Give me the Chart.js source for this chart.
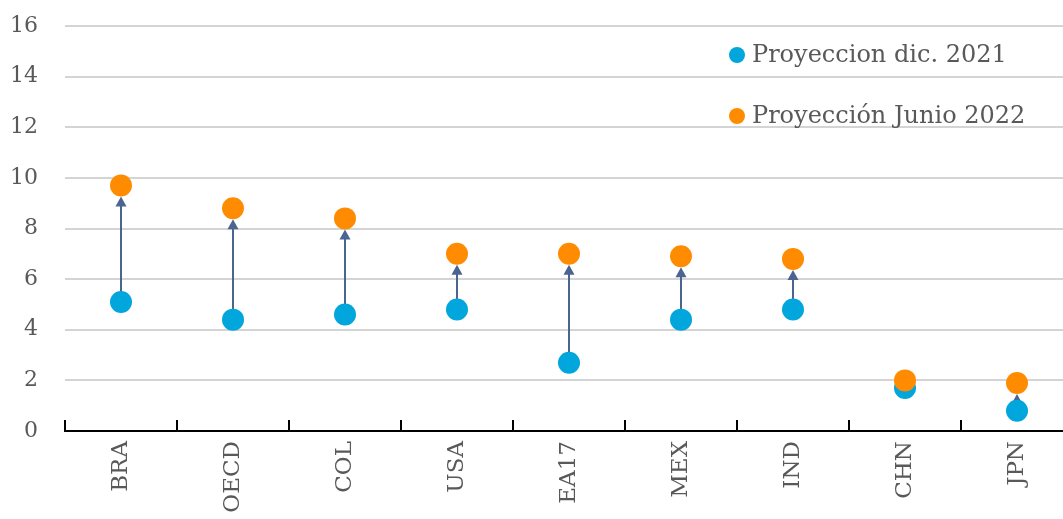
<!DOCTYPE html>
<html>
<head>
<meta charset="utf-8">
<script src="https://cdn.jsdelivr.net/npm/chart.js@4.4.1/dist/chart.umd.min.js"></script>
<style>
html,body{margin:0;padding:0;background:#fff;overflow:hidden;}
canvas{display:block;}
</style>
</head>
<body>
<canvas id="c" width="1073" height="519" style="width:1073px;height:519px;"></canvas>
<script>
const categories = ['BRA','OECD','COL','USA','EA17','MEX','IND','CHN','JPN'];
const dic2021 = [5.1, 4.4, 4.6, 4.8, 2.7, 4.4, 4.8, 1.7, 0.8];
const junio2022 = [9.7, 8.8, 8.4, 7.0, 7.0, 6.9, 6.8, 2.0, 1.9];
const seriesNames = ['Proyeccion dic. 2021', 'Proyección Junio 2022'];
const yTicks = [0, 2, 4, 6, 8, 10, 12, 14, 16];

const BLUE = '#00a6dc';
const ORANGE = '#ff8c00';
const ARROW = '#4a6591';
const TEXT = '#595959';
const FONT = "'DejaVu Serif', serif";
const R = 11;

const arrowPlugin = {
  id: 'arrows',
  beforeDatasetsDraw(chart) {
    const ctx = chart.ctx, x = chart.scales.x, y = chart.scales.y;
    ctx.save();
    ctx.strokeStyle = ARROW; ctx.fillStyle = ARROW; ctx.lineWidth = 2;
    categories.forEach((c, i) => {
      const px = x.getPixelForValue(i);
      const y0 = y.getPixelForValue(dic2021[i]);
      const y1 = y.getPixelForValue(junio2022[i]) + R;
      if (y1 >= y0) return;
      const headH = 10, headW = 5.5;
      ctx.beginPath(); ctx.moveTo(px, y0); ctx.lineTo(px, y1 + headH - 1); ctx.stroke();
      ctx.beginPath(); ctx.moveTo(px, y1); ctx.lineTo(px - headW, y1 + headH); ctx.lineTo(px + headW, y1 + headH); ctx.closePath(); ctx.fill();
    });
    ctx.restore();
  },
  afterDraw(chart) {
    const ctx = chart.ctx, a = chart.chartArea;
    ctx.save();
    ctx.strokeStyle = '#000'; ctx.lineWidth = 2;
    const w = (a.right - a.left) / categories.length;
    for (let i = 0; i <= categories.length; i++) {
      const px = Math.round(a.left + i * w);
      ctx.beginPath(); ctx.moveTo(px, a.bottom); ctx.lineTo(px, a.bottom - 11); ctx.stroke();
    }
    // legend
    ctx.font = "24px " + FONT; ctx.textBaseline = 'middle';
    const items = [[BLUE, seriesNames[0], 55], [ORANGE, seriesNames[1], 116]];
    items.forEach(([col, txt, yy]) => {
      ctx.fillStyle = col; ctx.beginPath(); ctx.arc(737, yy, 8, 0, Math.PI * 2); ctx.fill();
      ctx.fillStyle = TEXT; ctx.fillText(txt, 752, yy + 1);
    });
    ctx.restore();
  }
};

new Chart(document.getElementById('c'), {
  type: 'line',
  data: {
    labels: categories,
    datasets: [
      { label: seriesNames[1], data: junio2022, showLine: false, pointRadius: R, pointHoverRadius: R,
        pointBackgroundColor: ORANGE, pointBorderWidth: 0, borderColor: ORANGE, order: 0 },
      { label: seriesNames[0], data: dic2021, showLine: false, pointRadius: R, pointHoverRadius: R,
        pointBackgroundColor: BLUE, pointBorderWidth: 0, borderColor: BLUE, order: 1 }
    ]
  },
  options: {
    responsive: false, maintainAspectRatio: false, animation: false, devicePixelRatio: 1,
    layout: { autoPadding: false, padding: { top: 26, right: 0, left: 0, bottom: 0 } },
    plugins: { legend: { display: false }, tooltip: { enabled: false } },
    scales: {
      x: {
        offset: true,
        grid: { display: false, drawTicks: false },
        border: { display: true, color: '#000', width: 2 },
        ticks: { color: TEXT, font: { family: FONT, size: 23 }, maxRotation: 90, minRotation: 90, padding: 10 },
        afterFit(s) { s.height = 88; s.paddingLeft = 0; s.paddingRight = 0; }
      },
      y: {
        min: 0, max: 16,
        afterBuildTicks(s) { s.ticks = yTicks.map(v => ({ value: v })); },
        grid: { color: '#d4d4d4', lineWidth: 2, drawTicks: false },
        border: { display: false },
        ticks: { color: TEXT, font: { family: FONT, size: 22 }, padding: 27, stepSize: 2 },
        afterFit(s) { s.width = 65; s.paddingTop = 0; s.paddingBottom = 0; }
      }
    }
  },
  plugins: [arrowPlugin]
});
</script>
</body>
</html>
